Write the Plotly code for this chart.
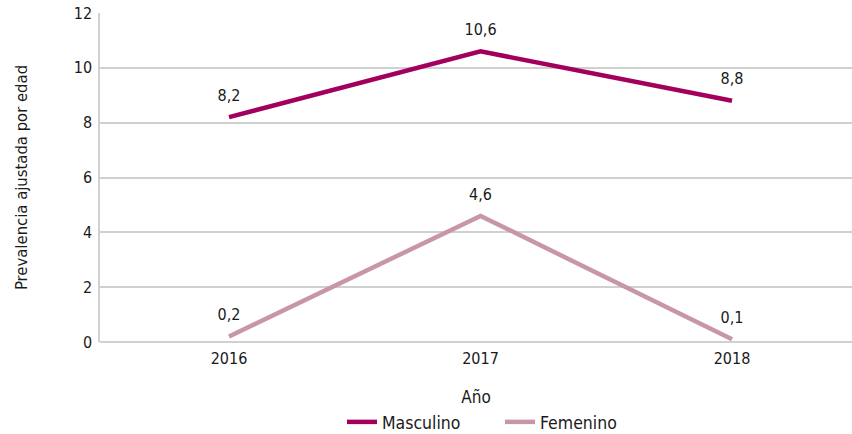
import plotly.graph_objects as go

years = ["2016", "2017", "2018"]
masculino = [8.2, 10.6, 8.8]
femenino = [0.2, 4.6, 0.1]
y_ticks = [0, 2, 4, 6, 8, 10, 12]

FONT = "DejaVu Sans Condensed, Liberation Sans Narrow, sans-serif"
TXT = "#1a1a1a"

def lab(vals):
    return [f"{v:.1f}".replace(".", ",") for v in vals]

fig = go.Figure()
for name, vals, color in [("Masculino", masculino, "#A3005E"), ("Femenino", femenino, "#C896A9")]:
    fig.add_trace(go.Scatter(
        x=years, y=vals, name=name, mode="lines+markers+text",
        line=dict(color=color, width=4.5),
        marker=dict(size=18, color="rgba(0,0,0,0)"),
        text=lab(vals),
        textposition="top center", textfont=dict(size=16, color=TXT, family=FONT),
        cliponaxis=False,
    ))

fig.update_layout(
    width=852, height=434,
    margin=dict(l=100, r=0, t=13, b=92, autoexpand=False),
    plot_bgcolor="white", paper_bgcolor="white",
    font=dict(family=FONT, size=16, color=TXT),
    separators=",.",
    showlegend=True,
    legend=dict(orientation="h", x=(342 - 100) / 752, xanchor="left",
                y=-80 / 329, yanchor="middle",
                font=dict(size=17.5, family=FONT, color=TXT),
                itemwidth=30, entrywidth=113, entrywidthmode="pixels", tracegroupgap=0),
    xaxis=dict(
        title=dict(text="Año", font=dict(size=17, family=FONT, color=TXT), standoff=24),
        range=[-0.513, 2.477], automargin=True,
        showgrid=False, showline=False, ticks="", zeroline=False,
        ticklabelstandoff=5,
        tickfont=dict(size=16, family=FONT, color=TXT),
    ),
    yaxis=dict(
        title=dict(text="Prevalencia ajustada por edad", font=dict(size=16.5, family=FONT, color=TXT), standoff=42),
        range=[0, 12], tickvals=y_ticks, automargin=True,
        showgrid=True, gridcolor="#D0D0D0", gridwidth=1.5,
        showline=True, linecolor="#D0D0D0", linewidth=1.5,
        zeroline=True, zerolinecolor="#D0D0D0", zerolinewidth=1.5,
        ticks="", ticklabelstandoff=3, ticklabeloverflow="allow",
        tickfont=dict(size=16, family=FONT, color=TXT),
    ),
)

fig.write_html(
    "out.html",
    config={"displayModeBar": False},
    post_script="document.body.style.margin='0';document.body.style.overflow='hidden';",
)
